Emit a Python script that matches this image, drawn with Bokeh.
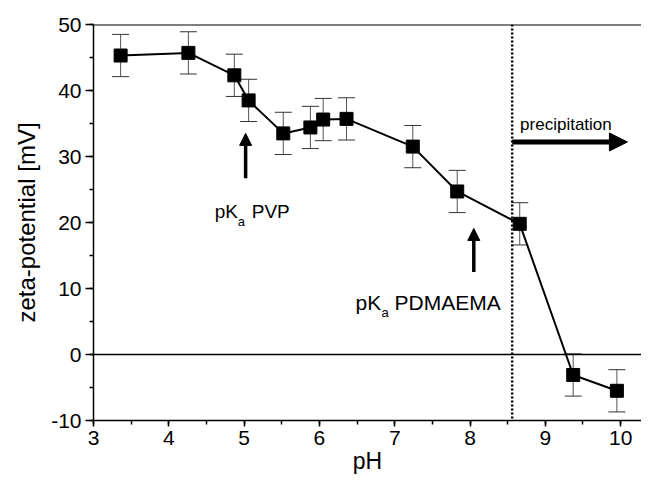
from bokeh.plotting import figure
from bokeh.models import (Whisker, TeeHead, ColumnDataSource, Span, Arrow, NormalHead,
                          Label, SingleIntervalTicker, PrintfTickFormatter)
from bokeh.embed import file_html
from bokeh.resources import INLINE

# ---- data ----
ph = [3.36, 4.26, 4.87, 5.06, 5.52, 5.88, 6.05, 6.36, 7.24, 7.83, 8.66, 9.37, 9.95]
zeta = [45.3, 45.7, 42.3, 38.5, 33.5, 34.4, 35.6, 35.7, 31.5, 24.7, 19.8, -3.1, -5.5]
zeta_err = [3.2, 3.2, 3.2, 3.2, 3.2, 3.2, 3.2, 3.2, 3.2, 3.2, 3.2, 3.2, 3.2]
x_ticks_interval = 1
y_ticks_interval = 10
precip_ph = 8.56

FONT = "Liberation Sans"

src = ColumnDataSource(dict(
    x=ph, y=zeta,
    lo=[z - e for z, e in zip(zeta, zeta_err)],
    hi=[z + e for z, e in zip(zeta, zeta_err)],
))

p = figure(width=641, height=479, x_range=(3, 10.277), y_range=(-10, 50),
           output_backend="svg", toolbar_location=None,
           min_border_left=93, min_border_right=0, min_border_top=24, min_border_bottom=59)
p.background_fill_color = "white"
p.border_fill_color = "white"
p.outline_line_color = None
p.grid.visible = False

# axes
p.xaxis.ticker = SingleIntervalTicker(interval=x_ticks_interval, num_minor_ticks=2)
p.yaxis.ticker = SingleIntervalTicker(interval=y_ticks_interval, num_minor_ticks=2)
p.xaxis.formatter = PrintfTickFormatter(format="%d")
p.yaxis.formatter = PrintfTickFormatter(format="%d")
for ax in (p.xaxis[0], p.yaxis[0]):
    ax.axis_line_width = 1.5
    ax.axis_line_color = "black"
    ax.major_tick_line_width = 1.5
    ax.minor_tick_line_width = 1.5
    ax.major_tick_line_color = "black"
    ax.minor_tick_line_color = "black"
    ax.major_tick_in = 0
    ax.minor_tick_in = 0
    ax.major_label_text_font = FONT
    ax.major_label_text_font_size = "21px"
    ax.major_label_text_color = "black"
    ax.axis_label_text_font = FONT
    ax.axis_label_text_font_style = "normal"
    ax.axis_label_text_color = "black"
p.xaxis.major_tick_out = 6
p.xaxis.minor_tick_out = 4
p.yaxis.major_tick_out = 8
p.yaxis.minor_tick_out = 4
p.xaxis.axis_label = "pH"
p.xaxis.axis_label_text_font_size = "23px"
p.xaxis.major_label_standoff = 4
p.xaxis.axis_label_standoff = 0
p.yaxis.axis_label = "zeta-potential [mV]"
p.yaxis.axis_label_text_font_size = "24px"
p.yaxis.major_label_standoff = 4
p.yaxis.axis_label_standoff = 8

# top frame line, zero line, precipitation line
p.add_layout(Span(location=50, dimension="width", line_color="black", line_width=2))
p.add_layout(Span(location=0, dimension="width", line_color="black", line_width=1.4))
p.add_layout(Span(location=precip_ph, dimension="height", line_color="black",
                  line_width=2.5, line_dash="2 2"))

# error bars
p.add_layout(Whisker(source=src, base="x", lower="lo", upper="hi",
                     line_color="#555555", line_width=1,
                     upper_head=TeeHead(size=17, line_color="#333333", line_width=1),
                     lower_head=TeeHead(size=17, line_color="#333333", line_width=1)))

p.line("x", "y", source=src, line_color="black", line_width=2)
p.scatter("x", "y", source=src, marker="square", size=13, fill_color="black", line_color="black")

# arrows
p.add_layout(Arrow(end=NormalHead(size=18, fill_color="black", line_color="black"),
                   x_start=precip_ph, y_start=32.2, x_end=10.09, y_end=32.2,
                   line_width=5, line_color="black"))
p.add_layout(Arrow(end=NormalHead(size=12, fill_color="black", line_color="black"),
                   x_start=5.02, y_start=26.7, x_end=5.02, y_end=33.5,
                   line_width=3.5, line_color="black"))
p.add_layout(Arrow(end=NormalHead(size=12, fill_color="black", line_color="black"),
                   x_start=8.05, y_start=12.5, x_end=8.05, y_end=19.1,
                   line_width=3.5, line_color="black"))

# labels
def pka_label(x, y, name, size, sub_dx, name_dx):
    p.add_layout(Label(x=x, y=y, text="pK", text_font=FONT, text_font_size=f"{size}px",
                       text_baseline="alphabetic", text_color="black"))
    p.add_layout(Label(x=x, y=y, x_offset=sub_dx, y_offset=-10, text="a", text_font=FONT,
                       text_font_size="13px", text_baseline="alphabetic", text_color="black"))
    p.add_layout(Label(x=x, y=y, x_offset=name_dx, text=name, text_font=FONT,
                       text_font_size=f"{size}px", text_baseline="alphabetic", text_color="black"))

pka_label(4.61, 21.6, "PVP", 19, 23, 37)
pka_label(6.48, 7.9, "PDMAEMA", 21, 26, 39)

p.add_layout(Label(x=8.665, y=34.85, text="precipitation", text_font=FONT,
                   text_font_size="17px", text_baseline="alphabetic", text_color="black"))

open("out.html", "w").write(file_html(p, INLINE))
